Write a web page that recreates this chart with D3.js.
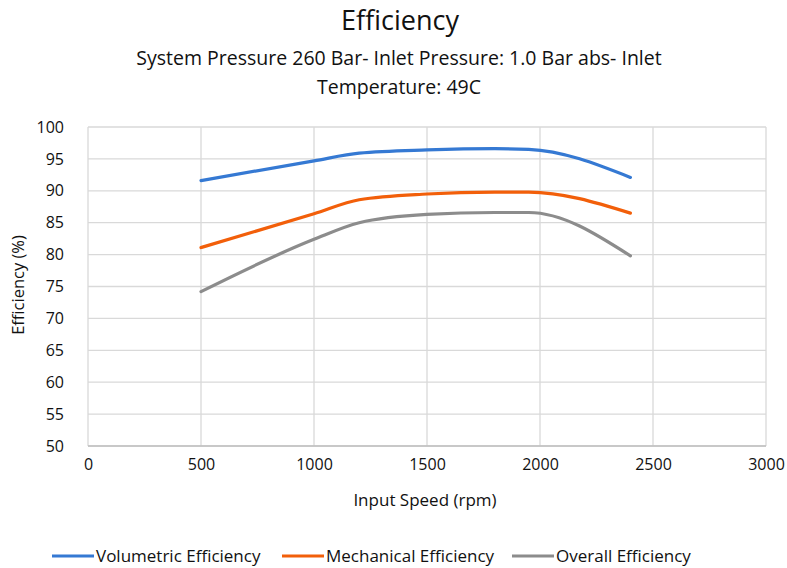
<!DOCTYPE html>
<html>
<head>
<meta charset="utf-8">
<script src="https://cdn.jsdelivr.net/npm/d3@7"></script>
<style>
  body { margin: 0; background: #fff; }
  text { font-family: "Open Sans", "Noto Sans", sans-serif; fill: #111; }
</style>
</head>
<body>
<svg class="chart"></svg>
<script>
var rpm = [500, 1000, 1200, 1500, 1800, 1950, 2400];
var volumetric = [91.6, 94.7, 95.9, 96.4, 96.6, 96.5, 92.1];
var mechanical = [81.1, 86.4, 88.6, 89.5, 89.8, 89.8, 86.5];
var overall = [74.2, 82.4, 85.0, 86.3, 86.6, 86.6, 79.8];
var seriesNames = ["Volumetric Efficiency", "Mechanical Efficiency", "Overall Efficiency"];
var xTicks = [0, 500, 1000, 1500, 2000, 2500, 3000];
var yTicks = [50, 55, 60, 65, 70, 75, 80, 85, 90, 95, 100];

(function () {
    'use strict';

    var W = 787, H = 568;
    var margin = {top: 127, left: 88, right: 21, bottom: 122};
    var width = W - margin.left - margin.right,
        height = H - margin.top - margin.bottom;

    var svg = d3.select(".chart").attr("width", W).attr("height", H);

    svg.append("text").attr("x", 400).attr("y", 30).attr("text-anchor", "middle")
        .style("font-size", "27px").text("Efficiency");
    svg.append("text").attr("x", 399).attr("y", 65).attr("text-anchor", "middle")
        .style("font-size", "19.5px").text("System Pressure 260 Bar- Inlet Pressure: 1.0 Bar abs- Inlet");
    svg.append("text").attr("x", 399).attr("y", 94).attr("text-anchor", "middle")
        .style("font-size", "19.5px").text("Temperature: 49C");

    var g = svg.append("g").attr("transform", "translate(" + margin.left + "," + margin.top + ")");

    var x = d3.scaleLinear().domain([0, 3000]).range([0, width]);
    var y = d3.scaleLinear().domain([50, 100]).range([height, 0]);

    // grid
    g.append("g").selectAll("line.h").data(yTicks).enter().append("line")
        .attr("x1", 0).attr("x2", width)
        .attr("y1", function(d) { return y(d); }).attr("y2", function(d) { return y(d); })
        .attr("stroke", "#d9d9d9").attr("stroke-width", 1.3);
    g.append("g").selectAll("line.v").data(xTicks).enter().append("line")
        .attr("y1", 0).attr("y2", height)
        .attr("x1", function(d) { return x(d); }).attr("x2", function(d) { return x(d); })
        .attr("stroke", "#d9d9d9").attr("stroke-width", 1.3);
    g.append("line").attr("x1", 0).attr("x2", width).attr("y1", height).attr("y2", height)
        .attr("stroke", "#bfbfbf").attr("stroke-width", 1.6);

    var xAxis = g.append("g").attr("transform", "translate(0," + height + ")")
        .call(d3.axisBottom(x).tickValues(xTicks).tickSize(0).tickPadding(13).tickFormat(d3.format("d")));
    xAxis.select(".domain").remove();
    xAxis.selectAll("text").style("font-size", "16px").style("fill", "#111");

    var yAxis = g.append("g")
        .call(d3.axisLeft(y).tickValues(yTicks).tickSize(0).tickPadding(24));
    yAxis.select(".domain").remove();
    yAxis.selectAll("text").style("font-size", "16px").style("fill", "#111");

    svg.append("text").attr("x", 425).attr("y", 506).attr("text-anchor", "middle")
        .style("font-size", "17px").text("Input Speed (rpm)");
    svg.append("text").attr("transform", "translate(24,285) rotate(-90)").attr("text-anchor", "middle")
        .style("font-size", "16.5px").text("Efficiency (%)");

    var colors = ["#3579d3", "#f25f0a", "#8c8c8c"];
    var data = [volumetric, mechanical, overall];
    var line = d3.line()
        .x(function(d, i) { return x(rpm[i]); })
        .y(function(d) { return y(d); })
        .curve(d3.curveMonotoneX);

    g.append("g").selectAll("path").data(data).enter().append("path")
        .attr("d", line).attr("fill", "none")
        .attr("stroke", function(d, i) { return colors[i]; })
        .attr("stroke-width", 3.2).attr("stroke-linecap", "round");

    // legend
    var legendX = [52, 282, 512];
    var leg = svg.append("g").selectAll("g").data(seriesNames).enter().append("g")
        .attr("transform", function(d, i) { return "translate(" + legendX[i] + ",556)"; });
    leg.append("line").attr("x1", 0).attr("x2", 42).attr("y1", 0).attr("y2", 0)
        .attr("stroke", function(d, i) { return colors[i]; }).attr("stroke-width", 3.2);
    leg.append("text").attr("x", 44).attr("y", 6).style("font-size", "17px").text(function(d) { return d; });
})();
</script>
</body>
</html>
